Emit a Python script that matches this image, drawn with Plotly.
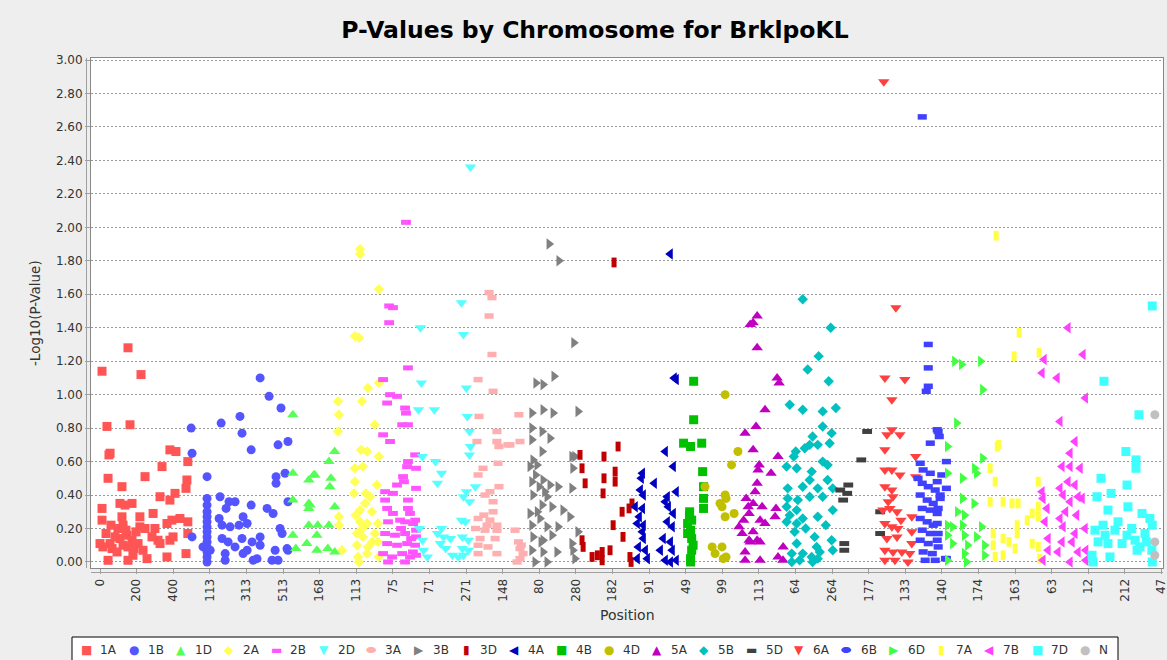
import numpy as np
import plotly.graph_objects as go

# ---------------- data ----------------
chromosomes = ["1A", "1B", "1D", "2A", "2B", "2D", "3A", "3B", "3D", "4A", "4B",
               "4D", "5A", "5B", "5D", "6A", "6B", "6D", "7A", "7B", "7D", "N"]
chrom_lengths = [487, 545, 255, 238, 204, 323, 268, 298, 291, 242, 150,
                 186, 249, 287, 244, 193, 166, 211, 300, 251, 365, 60]
colors = ["#FF5555", "#5555FF", "#55FF55", "#FFFF55", "#FF55FF", "#55FFFF",
          "#FFAFAF", "#808080", "#C00000", "#0000C0", "#00C000", "#C0C000",
          "#C000C0", "#00C0C0", "#404040", "#FF4040", "#4040FF", "#40FF40",
          "#FFFF40", "#FF40FF", "#40FFFF", "#C0C0C0"]
shapes_seq = ["square", "circle", "tri-up", "diamond", "hrect", "tri-down",
              "hellipse", "tri-right", "vrect", "tri-left"]

tick_positions = list(range(0, 5801, 200))
tick_labels = ["0", "200", "400", "113", "313", "513", "168", "113", "75", "71",
               "271", "148", "80", "280", "182", "91", "49", "99", "113", "64",
               "264", "177", "133", "140", "174", "163", "63", "12", "212", "47"]

# (position within chromosome, -log10 p)
pts_1A = [(11, 1.14), (153, 1.28), (224, 1.12), (38, 0.81), (164, 0.82), (55, 0.65), (49, 0.64),
          (382, 0.67), (415, 0.66), (480, 0.60), (339, 0.57), (44, 0.50), (246, 0.51), (120, 0.45),
          (475, 0.49), (470, 0.44), (410, 0.41), (328, 0.39), (382, 0.37), (109, 0.35), (175, 0.35),
          (137, 0.34), (11, 0.32), (290, 0.29), (11, 0.25), (120, 0.27), (218, 0.27), (437, 0.26),
          (393, 0.25), (480, 0.24), (366, 0.23), (218, 0.21), (246, 0.20), (126, 0.22), (300, 0.20),
          (33, 0.17), (82, 0.15), (109, 0.14), (148, 0.16), (175, 0.13), (0, 0.11), (55, 0.11),
          (208, 0.11), (328, 0.11), (382, 0.13), (480, 0.17), (284, 0.15), (126, 0.10), (153, 0.09),
          (235, 0.07), (44, 0.01), (153, 0.01), (257, 0.02), (366, 0.03), (470, 0.05), (93, 0.06),
          (180, 0.04), (16, 0.09), (317, 0.13), (399, 0.15), (66, 0.08), (98, 0.20), (142, 0.19),
          (186, 0.08), (60, 0.22), (197, 0.18)]
pts_1B = [(388, 1.10), (437, 0.99), (502, 0.92), (278, 0.87), (175, 0.83), (289, 0.77), (11, 0.80),
          (339, 0.67), (486, 0.70), (540, 0.72), (16, 0.65), (98, 0.51), (475, 0.51), (475, 0.47),
          (524, 0.53), (540, 0.36), (169, 0.39), (218, 0.36), (251, 0.36), (202, 0.32), (339, 0.34),
          (426, 0.32), (459, 0.29), (98, 0.38), (98, 0.34), (98, 0.30), (98, 0.27), (98, 0.24),
          (98, 0.21), (98, 0.18), (98, 0.15), (98, 0.12), (98, 0.09), (98, 0.06), (98, 0.03),
          (98, 0.00), (164, 0.26), (180, 0.22), (295, 0.27), (317, 0.23), (273, 0.22), (497, 0.20),
          (508, 0.17), (16, 0.15), (180, 0.14), (213, 0.12), (289, 0.14), (344, 0.12), (388, 0.15),
          (388, 0.10), (76, 0.09), (115, 0.07), (197, 0.05), (295, 0.05), (317, 0.07), (470, 0.07),
          (535, 0.08), (540, 0.07), (350, 0.01), (371, 0.02), (453, 0.01), (486, 0.01), (224, 0.21),
          (251, 0.09), (197, 0.01)]
pts_1D = [(22, 0.88), (250, 0.66), (219, 0.60), (22, 0.53), (109, 0.49), (142, 0.52), (230, 0.50),
          (224, 0.45), (22, 0.37), (109, 0.35), (109, 0.32), (251, 0.33), (115, 0.34), (109, 0.22),
          (158, 0.22), (219, 0.22), (22, 0.16), (153, 0.16), (98, 0.11), (38, 0.08), (153, 0.07),
          (213, 0.08), (251, 0.06), (136, 0.52)]
pts_2A = [(134, 1.87), (134, 1.84), (237, 1.63), (106, 1.35), (128, 1.34), (237, 1.07), (177, 1.04),
          (14, 0.96), (145, 0.96), (19, 0.88), (14, 0.78), (215, 0.82), (139, 0.67), (172, 0.66),
          (237, 0.63), (106, 0.56), (150, 0.57), (106, 0.48), (226, 0.46), (101, 0.41), (166, 0.41),
          (188, 0.39), (134, 0.31), (199, 0.30), (161, 0.35), (19, 0.27), (19, 0.22), (134, 0.24),
          (172, 0.23), (232, 0.23), (117, 0.17), (150, 0.15), (215, 0.17), (117, 0.10), (177, 0.09),
          (232, 0.12), (35, 0.07), (123, 0.03), (172, 0.05), (236, 0.03), (128, 0.00), (145, 0.20),
          (200, 0.12), (110, 0.28)]
pts_2B = [(147, 2.03), (55, 1.53), (76, 1.52), (55, 1.43), (158, 1.16), (22, 1.09), (60, 1.00),
          (98, 0.99), (44, 0.95), (142, 0.92), (147, 0.89), (126, 0.82), (158, 0.82), (22, 0.76),
          (60, 0.72), (197, 0.64), (158, 0.60), (153, 0.57), (202, 0.56), (131, 0.51), (136, 0.48),
          (98, 0.46), (202, 0.44), (33, 0.42), (76, 0.41), (158, 0.37), (33, 0.37), (44, 0.32),
          (76, 0.29), (158, 0.32), (169, 0.29), (197, 0.25), (49, 0.24), (115, 0.25), (142, 0.24),
          (186, 0.23), (33, 0.17), (87, 0.16), (142, 0.17), (202, 0.19), (202, 0.15), (44, 0.11),
          (98, 0.10), (153, 0.11), (197, 0.10), (22, 0.05), (71, 0.03), (126, 0.05), (169, 0.03),
          (202, 0.04), (49, 0.00), (142, 0.00), (120, 0.20), (175, 0.14), (185, 0.06)]
pts_2D = [(295, 2.36), (246, 1.55), (257, 1.36), (22, 1.40), (27, 1.07), (273, 1.04), (11, 0.91),
          (98, 0.91), (278, 0.87), (290, 0.78), (295, 0.69), (290, 0.64), (33, 0.63), (104, 0.60),
          (137, 0.53), (115, 0.47), (322, 0.45), (273, 0.42), (257, 0.39), (290, 0.36), (246, 0.25),
          (268, 0.24), (137, 0.20), (115, 0.17), (148, 0.15), (186, 0.14), (251, 0.15), (284, 0.13),
          (33, 0.13), (38, 0.07), (131, 0.11), (251, 0.08), (284, 0.07), (197, 0.04), (229, 0.03),
          (257, 0.04), (60, 0.03), (16, 0.20), (160, 0.08)]
pts_3A = [(74, 1.61), (90, 1.58), (74, 1.47), (90, 1.24), (14, 1.09), (96, 1.02), (19, 0.87),
          (237, 0.88), (117, 0.78), (8, 0.72), (117, 0.72), (128, 0.69), (188, 0.70), (243, 0.72),
          (177, 0.70), (123, 0.59), (41, 0.56), (14, 0.52), (128, 0.45), (79, 0.42), (52, 0.40),
          (96, 0.36), (96, 0.30), (14, 0.26), (79, 0.25), (0, 0.20), (52, 0.19), (117, 0.19),
          (216, 0.19), (25, 0.14), (107, 0.14), (14, 0.10), (68, 0.09), (14, 0.05), (117, 0.05),
          (243, 0.08), (260, 0.05), (243, 0.02), (227, 0.00), (63, 0.22), (117, 0.22), (235, 0.12),
          (250, 0.10), (45, 0.28)]
pts_3B = [(134, 1.90), (188, 1.80), (269, 1.31), (161, 1.11), (62, 1.07), (101, 1.06), (292, 0.90),
          (40, 0.89), (101, 0.91), (156, 0.89), (40, 0.80), (96, 0.78), (40, 0.73), (139, 0.74),
          (96, 0.66), (259, 0.63), (275, 0.63), (46, 0.61), (30, 0.57), (264, 0.56), (68, 0.58),
          (40, 0.48), (101, 0.49), (139, 0.46), (183, 0.45), (259, 0.44), (46, 0.40), (123, 0.39),
          (96, 0.34), (150, 0.33), (210, 0.31), (248, 0.27), (30, 0.29), (84, 0.26), (40, 0.22),
          (123, 0.21), (183, 0.21), (292, 0.18), (46, 0.15), (101, 0.13), (150, 0.16), (259, 0.11),
          (40, 0.07), (101, 0.06), (177, 0.06), (57, 0.00), (123, 0.00), (275, 0.02), (264, 0.07),
          (70, 0.30), (110, 0.42), (60, 0.52), (90, 0.12), (80, 0.45)]
pts_3D = [(191, 1.79), (5, 0.64), (213, 0.69), (136, 0.63), (16, 0.56), (197, 0.54), (197, 0.48),
          (136, 0.50), (33, 0.47), (131, 0.41), (289, 0.35), (273, 0.32), (235, 0.30), (186, 0.22),
          (240, 0.15), (16, 0.13), (22, 0.09), (169, 0.07), (71, 0.03), (126, 0.06), (126, 0.01),
          (278, 0.03), (284, 0.00), (100, 0.04)]
pts_4A = [(207, 1.84), (229, 1.10), (240, 1.09), (180, 0.66), (224, 0.57), (55, 0.53), (49, 0.50),
          (120, 0.47), (240, 0.42), (44, 0.43), (60, 0.40), (191, 0.39), (180, 0.36), (16, 0.33),
          (55, 0.32), (197, 0.33), (224, 0.29), (27, 0.23), (60, 0.22), (191, 0.24), (218, 0.21),
          (55, 0.18), (60, 0.14), (169, 0.14), (208, 0.12), (33, 0.09), (71, 0.07), (153, 0.07),
          (218, 0.07), (27, 0.02), (82, 0.02), (180, 0.01), (208, 0.00), (240, 0.01), (38, 0.27)]
pts_4B = [(93, 1.08), (93, 0.85), (38, 0.71), (76, 0.69), (137, 0.71), (142, 0.54), (147, 0.45),
          (147, 0.38), (147, 0.32), (71, 0.30), (82, 0.25), (76, 0.19), (82, 0.14), (60, 0.23),
          (60, 0.17), (82, 0.07), (76, 0.02), (76, 0.00), (90, 0.10), (70, 0.28)]
pts_4D = [(115, 1.00), (185, 0.66), (150, 0.58), (115, 0.40), (120, 0.38), (87, 0.35), (115, 0.27),
          (164, 0.29), (5, 0.45), (98, 0.33), (44, 0.09), (60, 0.05), (98, 0.09), (120, 0.03),
          (105, 0.02)]
pts_5A = [(104, 1.47), (82, 1.43), (66, 1.42), (104, 1.28), (213, 1.10), (224, 1.07), (147, 0.91),
          (98, 0.81), (38, 0.77), (82, 0.67), (218, 0.63), (115, 0.58), (109, 0.55), (180, 0.53),
          (104, 0.47), (93, 0.42), (44, 0.38), (82, 0.35), (55, 0.33), (131, 0.33), (207, 0.32),
          (147, 0.23), (202, 0.27), (5, 0.21), (60, 0.29), (120, 0.25), (22, 0.17), (82, 0.18),
          (60, 0.13), (104, 0.13), (66, 0.12), (120, 0.12), (246, 0.09), (38, 0.06), (120, 0.01),
          (245, 0.01), (218, 0.03), (38, 0.01), (30, 0.25)]
pts_5B = [(104, 1.57), (257, 1.40), (191, 1.23), (131, 1.15), (246, 1.08), (33, 0.94), (104, 0.91),
          (213, 0.90), (285, 0.92), (213, 0.81), (262, 0.77), (251, 0.71), (66, 0.66), (55, 0.63),
          (115, 0.68), (158, 0.75), (186, 0.70), (142, 0.70), (16, 0.57), (71, 0.56), (213, 0.60),
          (240, 0.58), (153, 0.54), (142, 0.49), (240, 0.49), (22, 0.44), (104, 0.45), (186, 0.44),
          (268, 0.44), (268, 0.31), (22, 0.38), (77, 0.37), (142, 0.39), (213, 0.39), (16, 0.33),
          (71, 0.31), (33, 0.28), (104, 0.26), (186, 0.27), (16, 0.24), (71, 0.23), (60, 0.18),
          (169, 0.15), (262, 0.13), (71, 0.11), (180, 0.09), (268, 0.07), (44, 0.05), (104, 0.05),
          (153, 0.03), (197, 0.06), (44, 0.00), (87, 0.01), (158, 0.00), (186, 0.02), (120, 0.20),
          (230, 0.22)]
pts_5D = [(169, 0.78), (137, 0.61), (66, 0.46), (22, 0.43), (60, 0.41), (38, 0.37), (240, 0.30),
          (240, 0.17), (44, 0.11), (44, 0.07)]
pts_6A = [(16, 2.87), (82, 1.52), (22, 1.10), (131, 1.09), (60, 0.97), (60, 0.79), (104, 0.76),
          (33, 0.76), (22, 0.67), (190, 0.63), (22, 0.55), (60, 0.55), (104, 0.52), (190, 0.51),
          (22, 0.45), (60, 0.43), (66, 0.39), (49, 0.32), (88, 0.30), (169, 0.27), (11, 0.31),
          (22, 0.23), (60, 0.21), (93, 0.20), (169, 0.18), (33, 0.14), (88, 0.15), (169, 0.11),
          (22, 0.07), (66, 0.06), (115, 0.06), (158, 0.05), (22, 0.01), (77, 0.01), (148, 0.00),
          (40, 0.36), (110, 0.25)]
pts_6B = [(33, 2.66), (66, 1.30), (66, 1.16), (66, 1.05), (55, 1.02), (115, 0.79), (126, 0.75),
          (77, 0.71), (120, 0.78), (165, 0.60), (115, 0.48), (165, 0.44), (131, 0.40), (131, 0.38),
          (120, 0.32), (115, 0.23), (120, 0.17), (120, 0.09), (160, 0.02), (165, 0.02), (22, 0.59),
          (38, 0.55), (77, 0.53), (33, 0.47), (66, 0.45), (104, 0.43), (22, 0.40), (60, 0.37),
          (93, 0.35), (33, 0.32), (77, 0.31), (115, 0.29), (22, 0.26), (60, 0.24), (93, 0.22),
          (33, 0.19), (77, 0.17), (22, 0.13), (66, 0.11), (115, 0.13), (38, 0.06), (88, 0.05),
          (49, 0.01), (104, 0.01), (10, 0.50), (140, 0.52)]
pts_6D = [(44, 1.20), (82, 1.18), (186, 1.20), (197, 1.03), (55, 0.83), (5, 0.69), (197, 0.62),
          (153, 0.56), (164, 0.53), (5, 0.53), (87, 0.50), (87, 0.38), (98, 0.28), (5, 0.22),
          (33, 0.21), (87, 0.22), (191, 0.21), (5, 0.16), (98, 0.16), (164, 0.15), (33, 0.11),
          (115, 0.10), (208, 0.10), (98, 0.05), (208, 0.04), (109, 0.00), (5, 0.01), (60, 0.30),
          (150, 0.35)]
pts_7A = [(60, 1.95), (186, 1.37), (158, 1.23), (295, 1.25), (66, 0.69), (74, 0.70), (27, 0.56),
          (55, 0.48), (290, 0.48), (27, 0.36), (98, 0.36), (147, 0.35), (180, 0.35), (290, 0.33),
          (257, 0.29), (290, 0.27), (175, 0.22), (44, 0.17), (98, 0.14), (175, 0.17), (44, 0.10),
          (164, 0.08), (257, 0.11), (290, 0.09), (98, 0.04), (55, 0.03), (298, 0.02), (230, 0.25),
          (130, 0.12)]
pts_7B = [(153, 1.40), (235, 1.24), (22, 1.21), (11, 1.13), (93, 1.10), (248, 0.98), (109, 0.84),
          (191, 0.72), (164, 0.65), (120, 0.57), (164, 0.57), (219, 0.56), (153, 0.48), (191, 0.46),
          (11, 0.42), (109, 0.44), (126, 0.40), (208, 0.39), (16, 0.38), (164, 0.36), (230, 0.38),
          (38, 0.32), (109, 0.26), (27, 0.24), (126, 0.21), (191, 0.17), (246, 0.20), (44, 0.14),
          (120, 0.12), (175, 0.12), (44, 0.07), (98, 0.06), (208, 0.06), (250, 0.07), (164, 0.00),
          (250, 0.01), (16, 0.01), (140, 0.30), (200, 0.28)]
pts_7D = [(362, 1.53), (98, 1.08), (289, 0.88), (218, 0.66), (273, 0.61), (273, 0.56), (82, 0.50),
          (224, 0.46), (137, 0.41), (60, 0.39), (229, 0.33), (306, 0.29), (349, 0.26), (362, 0.22),
          (120, 0.31), (175, 0.24), (93, 0.22), (49, 0.19), (104, 0.16), (158, 0.19), (224, 0.16),
          (268, 0.13), (322, 0.17), (66, 0.12), (120, 0.11), (197, 0.11), (295, 0.09), (360, 0.07),
          (33, 0.04), (131, 0.03), (279, 0.07), (38, 0.00), (362, 0.00), (250, 0.20), (330, 0.12)]
pts_N = [(11, 0.88), (11, 0.12), (11, 0.04)]

chrom_points = [pts_1A, pts_1B, pts_1D, pts_2A, pts_2B, pts_2D, pts_3A, pts_3B, pts_3D,
                pts_4A, pts_4B, pts_4D, pts_5A, pts_5B, pts_5D, pts_6A, pts_6B, pts_6D,
                pts_7A, pts_7B, pts_7D, pts_N]

# ---------------- style ----------------
W, H = 1167, 660
BG = "#EEEEEE"
FONT = "DejaVu Sans"
PL, PR, PT, PB = 91, 1163, 58, 568          # plot area in pixels
X_RANGE = [-49.2, 5808.7]
Y_RANGE = [-0.036, 3.012]


def marker_style(kind, color):
    base = dict(color=color, line=dict(width=0, color=color))
    if kind == "square":
        base.update(symbol="square", size=9)
    elif kind == "circle":
        base.update(symbol="circle", size=9)
    elif kind == "tri-up":
        base.update(symbol="triangle-up", size=10)
    elif kind == "tri-down":
        base.update(symbol="triangle-down", size=10)
    elif kind == "tri-left":
        base.update(symbol="triangle-left", size=10)
    elif kind == "tri-right":
        base.update(symbol="triangle-right", size=10)
    elif kind == "diamond":
        base.update(symbol="diamond", size=8)
    elif kind == "hrect":
        base.update(symbol="line-ew", size=7, line=dict(width=5, color=color))
    elif kind == "vrect":
        base.update(symbol="line-ns", size=7, line=dict(width=5, color=color))
    elif kind == "hellipse":
        base.update(symbol="line-ew", size=6.5, line=dict(width=5.5, color=color))
    return base


legend_glyph = {"square": "■", "circle": "●", "tri-up": "▲", "tri-down": "▼",
                "tri-left": "◀", "tri-right": "▶", "diamond": "◆", "hrect": "▬",
                "vrect": "▮", "hellipse": "⬬"}

offsets = np.concatenate([[0], np.cumsum(chrom_lengths)[:-1]])

fig = go.Figure()
for i, (name, pts) in enumerate(zip(chromosomes, chrom_points)):
    kind = "circle" if name == "N" else shapes_seq[i % len(shapes_seq)]
    xs = [offsets[i] + p for p, _ in pts]
    ys = [v for _, v in pts]
    fig.add_trace(go.Scatter(x=xs, y=ys, mode="markers", name=name, showlegend=False,
                             marker=marker_style(kind, colors[i]), cliponaxis=True))

px2x = lambda px: px / W
py2y = lambda py: 1 - py / H

annotations = []
shapes = []
# custom legend
LEG_X0, LEG_DX, LEG_Y = 86, 47.55, 650
for i, name in enumerate(chromosomes):
    kind = "circle" if name == "N" else shapes_seq[i % len(shapes_seq)]
    cx = LEG_X0 + LEG_DX * i
    annotations.append(dict(x=px2x(cx), y=py2y(LEG_Y), xref="paper", yref="paper",
                            text=legend_glyph[kind], showarrow=False, xanchor="center",
                            yanchor="middle", font=dict(family=FONT, size=12, color=colors[i])))
    annotations.append(dict(x=px2x(cx + 12), y=py2y(LEG_Y), xref="paper", yref="paper",
                            text=name, showarrow=False, xanchor="left", yanchor="middle",
                            font=dict(family=FONT, size=12, color="#333333")))
shapes.append(dict(type="rect", xref="paper", yref="paper", x0=px2x(72), x1=px2x(1118),
                   y0=py2y(672), y1=py2y(637), line=dict(color="#000000", width=1),
                   fillcolor="white", layer="below"))
# axis lines offset from plot area (JFreeChart style)
shapes.append(dict(type="line", xref="paper", yref="paper", x0=px2x(86.5), x1=px2x(86.5),
                   y0=py2y(PB), y1=py2y(PT), line=dict(color="#A0A0A0", width=1)))
shapes.append(dict(type="line", xref="paper", yref="paper", x0=px2x(PL), x1=px2x(PR),
                   y0=py2y(572.5), y1=py2y(572.5), line=dict(color="#A0A0A0", width=1)))

annotations.append(dict(x=px2x(627), y=py2y(615), xref="paper", yref="paper", text="Position",
                        showarrow=False, xanchor="center", yanchor="middle",
                        font=dict(family=FONT, size=14, color="#333333")))
annotations.append(dict(x=px2x(35), y=py2y(313), xref="paper", yref="paper",
                        text="-Log10(P-Value)", textangle=-90, showarrow=False,
                        xanchor="center", yanchor="middle",
                        font=dict(family=FONT, size=13.5, color="#333333")))

fig.update_layout(
    width=W, height=H, autosize=False,
    margin=dict(l=0, r=0, t=0, b=0, pad=0, autoexpand=False),
    paper_bgcolor=BG, plot_bgcolor="white",
    title=dict(text="<b>P-Values by Chromosome for BrklpoKL</b>", x=595 / W, y=py2y(30),
               xref="paper", yref="paper", xanchor="center", yanchor="middle",
               font=dict(family=FONT, size=23.5, color="#000000"), automargin=False),
    xaxis=dict(domain=[px2x(PL), px2x(PR)], range=X_RANGE, tickmode="array",
               tickvals=tick_positions, ticktext=tick_labels, tickangle=-90,
               ticklabeloverflow="allow",
               showgrid=False, zeroline=False, showline=True, mirror=True, automargin=False,
               linecolor="#888888", linewidth=1, ticks="outside", ticklen=5,
               tickcolor="#A0A0A0", tickfont=dict(family=FONT, size=12, color="#333333"),
               fixedrange=True),
    yaxis=dict(domain=[py2y(PB), py2y(PT)], range=Y_RANGE, tickmode="array",
               tickvals=[round(0.2 * k, 1) for k in range(16)],
               ticktext=["%.2f" % (0.2 * k) for k in range(16)], automargin=False,
               showgrid=True, gridcolor="#9A9A9A", griddash="2px,2px", gridwidth=1,
               zeroline=False, showline=True, mirror=True, linecolor="#888888",
               linewidth=1, ticks="outside", ticklen=5, tickcolor="#A0A0A0",
               tickfont=dict(family=FONT, size=12, color="#333333"), fixedrange=True),
    annotations=annotations, shapes=shapes, showlegend=False,
)

fig.write_html("out.html", config={"displayModeBar": False},
               post_script="document.body.style.margin='0';"
                           "document.body.style.background='#EEEEEE';")
